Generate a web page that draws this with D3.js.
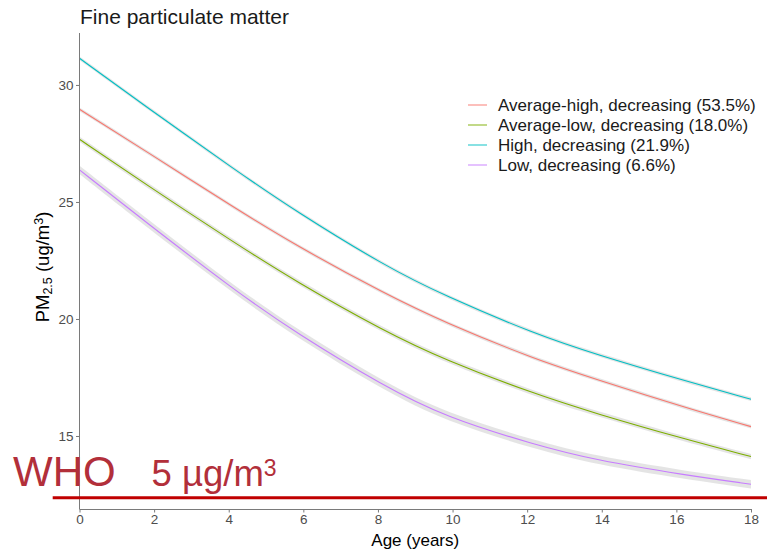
<!DOCTYPE html>
<html>
<head>
<meta charset="utf-8">
<script src="https://cdn.jsdelivr.net/npm/d3@7/dist/d3.min.js"></script>
<style>
  html, body { margin: 0; padding: 0; background: #ffffff; }
  svg { display: block; font-family: "Liberation Sans", Arial, sans-serif; }
</style>
</head>
<body>
<svg id="chart" width="767" height="552"></svg>
<script>
// ---- data ----
const ages = [0, 1.76, 4.17, 5.78, 8.19, 9.8, 12.21, 13.82, 16.24, 18];
const highDecreasing        = [31.14, 29.10, 26.37, 24.62, 22.26, 20.98, 19.36, 18.50, 17.35, 16.57];
const averageHighDecreasing = [28.96, 27.19, 24.73, 23.16, 21.07, 19.84, 18.28, 17.44, 16.21, 15.40];
const averageLowDecreasing  = [27.68, 25.77, 23.24, 21.62, 19.46, 18.25, 16.79, 15.97, 14.86, 14.12];
const lowDecreasing         = [26.37, 24.16, 21.21, 19.43, 17.10, 15.82, 14.62, 13.97, 13.33, 12.94];
// half-width of the confidence ribbons
const ciHalfWidth = [0.08, 0.11, 0.08, 0.18];
const seriesNames = [
  "Average-high, decreasing (53.5%)",
  "Average-low, decreasing (18.0%)",
  "High, decreasing (21.9%)",
  "Low, decreasing (6.6%)"
];
const seriesValues = [averageHighDecreasing, averageLowDecreasing, highDecreasing, lowDecreasing];
const seriesColors = ["#F8766D", "#7CAE00", "#00BFC4", "#C77CFF"];
const xTicks = [0, 2, 4, 6, 8, 10, 12, 14, 16, 18];
const yTicks = [15, 20, 25, 30];
const whoValue = 12.36; // position of the WHO annotation line on the y scale

(function () {
// ---- layout ----
const svg = d3.select("#chart");
const pLeft = 79.5, pRight = 751, pTop = 33, pBottom = 509;

const x = d3.scaleLinear().domain([0, 18]).range([pLeft, pRight]);
const y = d3.scaleLinear().domain([11.88, 32.22]).range([pBottom, pTop]);
const curve = d3.curveBasis;

// ribbons
seriesValues.forEach((vals, i) => {
  const pts = ages.map((a, k) => ({ a, v: vals[k] }));
  const area = d3.area()
    .x(d => x(d.a))
    .y0(d => y(d.v - ciHalfWidth[i]))
    .y1(d => y(d.v + ciHalfWidth[i]))
    .curve(curve);
  svg.append("path")
    .attr("d", area(pts))
    .attr("fill", "#b3b3b3")
    .attr("fill-opacity", 0.35);
});

// lines
seriesValues.forEach((vals, i) => {
  const pts = ages.map((a, k) => ({ a, v: vals[k] }));
  const line = d3.line()
    .x(d => x(d.a))
    .y(d => y(d.v))
    .curve(curve);
  svg.append("path")
    .attr("d", line(pts))
    .attr("fill", "none")
    .attr("stroke", seriesColors[i])
    .attr("stroke-width", 1.1);
});

// axes
const axisColor = "#7a7a7a";
const tickTextColor = "#4d4d4d";

const yAxis = svg.append("g")
  .attr("transform", `translate(${pLeft},0)`)
  .call(d3.axisLeft(y).tickValues(yTicks).tickSize(3.5).tickPadding(2.5).tickSizeOuter(0));
yAxis.select(".domain").remove();
svg.append("line")
  .attr("x1", pLeft).attr("x2", pLeft).attr("y1", pTop).attr("y2", pBottom)
  .attr("stroke", axisColor).attr("stroke-width", 1);

const xAxis = svg.append("g")
  .attr("transform", `translate(0,${pBottom})`)
  .call(d3.axisBottom(x).tickValues(xTicks).tickSize(3.5).tickPadding(2).tickSizeOuter(0));
xAxis.select(".domain").remove();
svg.append("line")
  .attr("x1", pLeft).attr("x2", pRight).attr("y1", pBottom + 0.5).attr("y2", pBottom + 0.5)
  .attr("stroke", axisColor).attr("stroke-width", 1);

[yAxis, xAxis].forEach(g => {
  g.selectAll(".tick line").attr("stroke", axisColor);
  g.selectAll(".tick text")
    .attr("fill", tickTextColor)
    .style("font-size", "13.5px")
    .style("font-family", '"Liberation Sans", Arial, sans-serif');
});

// title
svg.append("text")
  .attr("x", 80).attr("y", 24)
  .attr("fill", "#1a1a1a")
  .style("font-size", "21px")
  .text("Fine particulate matter");

// x axis title
svg.append("text")
  .attr("x", (pLeft + pRight) / 2).attr("y", 546)
  .attr("text-anchor", "middle")
  .attr("fill", "#000")
  .style("font-size", "17px")
  .text("Age (years)");

// y axis title
const yt = svg.append("text")
  .attr("transform", `translate(49,267) rotate(-90)`)
  .attr("text-anchor", "middle")
  .attr("fill", "#000")
  .style("font-size", "18.5px");
yt.append("tspan").text("PM");
yt.append("tspan").attr("baseline-shift", "-24%").style("font-size", "12.5px").text("2.5");
yt.append("tspan").text(" (ug/m");
yt.append("tspan").attr("baseline-shift", "45%").style("font-size", "12.5px").text("3");
yt.append("tspan").text(")");

// legend
const legend = svg.append("g");
seriesNames.forEach((name, i) => {
  const cy = 105 + i * 20;
  legend.append("line")
    .attr("x1", 468).attr("x2", 487).attr("y1", cy).attr("y2", cy)
    .attr("stroke", seriesColors[i]).attr("stroke-width", 1.1)
    .attr("stroke-opacity", 0.85);
  legend.append("text")
    .attr("x", 498).attr("y", cy + 6)
    .attr("fill", "#1a1a1a")
    .style("font-size", "17px")
    .text(name);
});

// WHO annotation
svg.append("line")
  .attr("x1", 52.7).attr("x2", 767)
  .attr("y1", y(whoValue)).attr("y2", y(whoValue))
  .attr("stroke", "#c00000").attr("stroke-width", 3);

svg.append("text")
  .attr("x", 13).attr("y", 486)
  .attr("fill", "#b22f3a")
  .style("font-size", "42px")
  .text("WHO");

const who2 = svg.append("text")
  .attr("x", 151.5).attr("y", 486)
  .attr("fill", "#b22f3a")
  .style("font-size", "36.5px");
who2.append("tspan").text("5 \u00b5g/m");
who2.append("tspan").attr("baseline-shift", "45%").style("font-size", "23px").text("3");
})();
</script>
</body>
</html>
